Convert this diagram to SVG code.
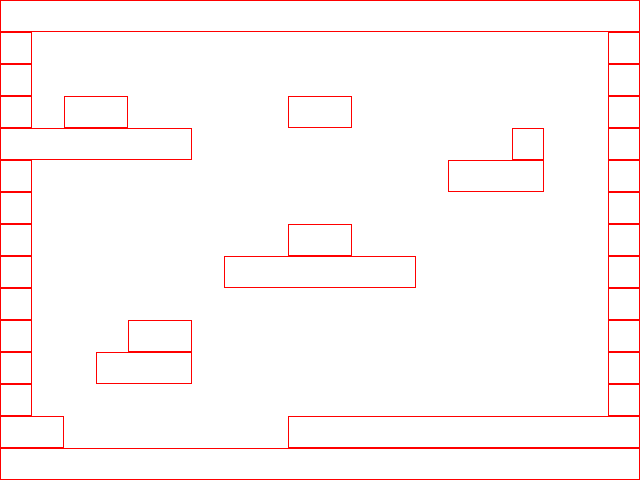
<svg xmlns="http://www.w3.org/2000/svg" width="640" height="480" viewBox="0 0 640 480">
<style>rect{fill:none;stroke:#ff0000;stroke-width:1}</style>
<rect width="640" height="480" fill="#ffffff" style="stroke:none;fill:#fff"/>
<g id="tiles">
<rect x="0.5" y="0.5" width="639" height="31"/>
<rect x="0.5" y="448.5" width="639" height="31"/>
<rect x="0.5" y="32.5" width="31" height="31"/>
<rect x="0.5" y="64.5" width="31" height="31"/>
<rect x="0.5" y="96.5" width="31" height="31"/>
<rect x="0.5" y="128.5" width="191" height="31"/>
<rect x="0.5" y="160.5" width="31" height="31"/>
<rect x="0.5" y="192.5" width="31" height="31"/>
<rect x="0.5" y="224.5" width="31" height="31"/>
<rect x="0.5" y="256.5" width="31" height="31"/>
<rect x="0.5" y="288.5" width="31" height="31"/>
<rect x="0.5" y="320.5" width="31" height="31"/>
<rect x="0.5" y="352.5" width="31" height="31"/>
<rect x="0.5" y="384.5" width="31" height="31"/>
<rect x="0.5" y="416.5" width="63" height="31"/>
<rect x="608.5" y="32.5" width="31" height="31"/>
<rect x="608.5" y="64.5" width="31" height="31"/>
<rect x="608.5" y="96.5" width="31" height="31"/>
<rect x="608.5" y="128.5" width="31" height="31"/>
<rect x="608.5" y="160.5" width="31" height="31"/>
<rect x="608.5" y="192.5" width="31" height="31"/>
<rect x="608.5" y="224.5" width="31" height="31"/>
<rect x="608.5" y="256.5" width="31" height="31"/>
<rect x="608.5" y="288.5" width="31" height="31"/>
<rect x="608.5" y="320.5" width="31" height="31"/>
<rect x="608.5" y="352.5" width="31" height="31"/>
<rect x="608.5" y="384.5" width="31" height="31"/>
<rect x="288.5" y="416.5" width="351" height="31"/>
<rect x="64.5" y="96.5" width="63" height="31"/>
<rect x="288.5" y="96.5" width="63" height="31"/>
<rect x="512.5" y="128.5" width="31" height="31"/>
<rect x="448.5" y="160.5" width="95" height="31"/>
<rect x="288.5" y="224.5" width="63" height="31"/>
<rect x="224.5" y="256.5" width="191" height="31"/>
<rect x="128.5" y="320.5" width="63" height="31"/>
<rect x="96.5" y="352.5" width="95" height="31"/>
</g>
</svg>
